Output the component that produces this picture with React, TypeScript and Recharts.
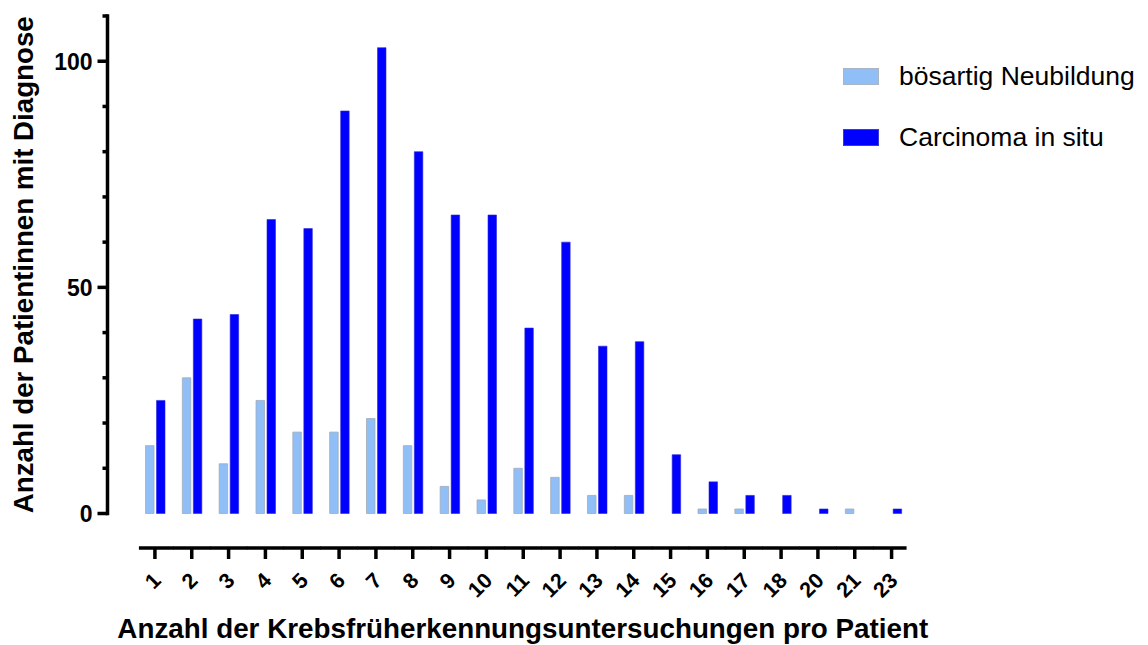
import React from 'react';
import { BarChart, Bar, XAxis, YAxis, Legend } from 'recharts';

const FONT = '"Liberation Sans", Arial, Helvetica, sans-serif';

// number of screenings per patient
const categories = ['1', '2', '3', '4', '5', '6', '7', '8', '9', '10', '11', '12', '13', '14', '15', '16', '17', '18', '20', '21', '23'];
const boesartigNeubildung = [15, 30, 11, 25, 18, 18, 21, 15, 6, 3, 10, 8, 4, 4, 0, 1, 1, 0, 0, 1, 0];
const carcinomaInSitu = [25, 43, 44, 65, 63, 89, 103, 80, 66, 66, 41, 60, 37, 38, 13, 7, 4, 4, 1, 0, 1];

const yTicks = [0, 10, 20, 30, 40, 50, 60, 70, 80, 90, 100, 110];
const yLabeled = [0, 50, 100];
const seriesOrder = ['boes', 'cis'];

const data = categories.map((name, i) => ({
  name,
  boes: boesartigNeubildung[i],
  cis: carcinomaInSitu[i],
}));

const YTick = (props: any) => {
  const { x, y, payload } = props;
  const major = yLabeled.includes(payload.value);
  return (
    <g>
      <line x1={x - (major ? 10 : 5)} x2={x} y1={y} y2={y} stroke="#000" strokeWidth={3.5} />
      {major && (
        <text x={x - 15} y={y} dy="0.36em" textAnchor="end" fontFamily={FONT} fontWeight="bold" fontSize={23} fill="#000">
          {payload.value}
        </text>
      )}
    </g>
  );
};

// offset x axis: line segment per band, tick below, rotated label
const XTick = (props: any) => {
  const { x, y, payload, index } = props;
  const half = 18.7;
  const left = index === 0 ? x - 16 : x - half;
  const right = index === categories.length - 1 ? x + 15 : x + half;
  const lineY = y + 34.5;
  return (
    <g>
      <line x1={left} x2={right} y1={lineY} y2={lineY} stroke="#000" strokeWidth={3.5} />
      <line x1={x} x2={x} y1={lineY} y2={lineY + 11} stroke="#000" strokeWidth={3.5} />
      <text
        transform={`translate(${x + 2},${y + 63}) rotate(-45)`}
        dy="0.35em"
        textAnchor="end"
        fontFamily={FONT}
        fontWeight="bold"
        fontSize={21.5}
        fill="#000"
      >
        {payload.value}
      </text>
    </g>
  );
};

const XTitle = ({ viewBox }: any) => (
  <text
    x={viewBox.x + viewBox.width / 2 + 14}
    y={viewBox.y + viewBox.height - 7}
    textAnchor="middle"
    fontFamily={FONT}
    fontWeight="bold"
    fontSize={27.8}
    fill="#000"
  >
    Anzahl der Krebsfrüherkennungsuntersuchungen pro Patient
  </text>
);

const YTitle = ({ viewBox }: any) => (
  <text
    transform={`translate(${viewBox.x + 33},${viewBox.y + viewBox.height / 2}) rotate(-90)`}
    textAnchor="middle"
    fontFamily={FONT}
    fontWeight="bold"
    fontSize={27.7}
    fill="#000"
  >
    Anzahl der Patientinnen mit Diagnose
  </text>
);

const LegendContent = (props: any) => {
  const items = [...props.payload].sort(
    (a: any, b: any) => seriesOrder.indexOf(a.dataKey) - seriesOrder.indexOf(b.dataKey),
  );
  return (
    <div style={{ fontFamily: FONT }}>
      {items.map((entry: any, i: number) => (
        <div key={entry.value} style={{ display: 'flex', alignItems: 'center', height: 17, marginBottom: i === 0 ? 44 : 0 }}>
          <span
            style={{
              display: 'inline-block',
              width: 36,
              height: 17,
              boxSizing: 'border-box',
              background: entry.color,
              border: i === 0 ? '1px solid #a9b4c4' : '1px solid #3a3ad0',
            }}
          />
          <span style={{ marginLeft: 20, fontSize: 26.5, color: '#000', lineHeight: '17px', whiteSpace: 'nowrap' }}>
            {entry.value}
          </span>
        </div>
      ))}
    </div>
  );
};

export default function App() {
  return (
    <div style={{ position: 'absolute', left: 0, top: 0, background: '#fff' }}>
      <BarChart
        width={1148}
        height={645}
        data={data}
        margin={{ top: 16, right: 238, bottom: 0, left: 0 }}
        barSize={8.5}
        barGap={2.5}
      >
        <XAxis
          dataKey="name"
          height={131.5}
          padding={{ left: 29, right: 0 }}
          axisLine={false}
          tickLine={false}
          tickSize={0}
          tickMargin={0}
          interval={0}
          tick={<XTick />}
          label={<XTitle />}
        />
        <YAxis
          width={107.5}
          domain={[0, 110]}
          ticks={yTicks}
          interval={0}
          axisLine={{ stroke: '#000', strokeWidth: 3.5, strokeLinecap: 'square' }}
          tickLine={false}
          tickSize={0}
          tickMargin={0}
          tick={<YTick />}
          label={<YTitle />}
        />
        <Legend
          layout="vertical"
          align="center"
          verticalAlign="middle"
          content={<LegendContent />}
          wrapperStyle={{ left: 843, top: 68, width: 305, height: 80 }}
        />
        <Bar dataKey="boes" name="bösartig Neubildung" fill="#90BFF8" stroke="#a3abb8" strokeWidth={0.8} isAnimationActive={false} />
        <Bar dataKey="cis" name="Carcinoma in situ" fill="#0000FF" stroke="#2a2ad8" strokeWidth={0.6} isAnimationActive={false} />
      </BarChart>
    </div>
  );
}
